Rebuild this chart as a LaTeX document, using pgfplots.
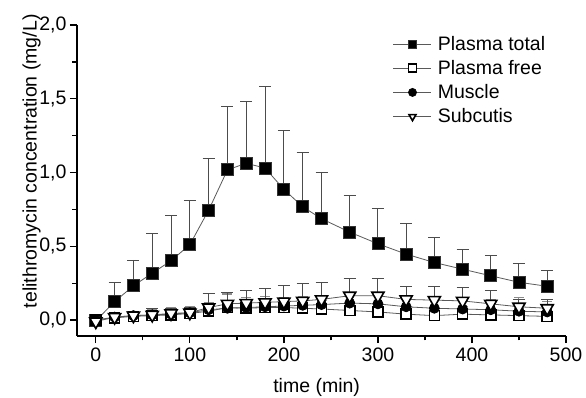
\documentclass[border=0pt]{standalone}
\usepackage{pgfplots}
\usepackage{pgfplotstable}
\pgfplotsset{compat=1.18}
\usepackage{fontspec}
\setmainfont{Liberation Sans}

\pgfplotstableread{
t    tot    totE   free   freeE  mus    musE   sub    subE
0    -0.005 0.000  0.000  0.000  0.000  0.000  -0.010 0.000
20   0.125  0.130  0.015  0.020  0.020  0.020  0.020  0.025
40   0.232  0.170  0.025  0.030  0.030  0.030  0.030  0.030
60   0.318  0.270  0.030  0.040  0.035  0.040  0.035  0.040
80   0.402  0.305  0.035  0.040  0.040  0.045  0.045  0.035
100  0.511  0.300  0.045  0.040  0.050  0.040  0.050  0.035
120  0.745  0.350  0.060  0.060  0.070  0.050  0.085  0.095
140  1.018  0.430  0.085  0.090  0.080  0.100  0.110  0.075
160  1.063  0.420  0.080  0.070  0.085  0.070  0.115  0.085
180  1.030  0.550  0.085  0.060  0.090  0.070  0.120  0.095
200  0.886  0.400  0.085  0.060  0.095  0.060  0.125  0.110
220  0.768  0.370  0.080  0.060  0.100  0.060  0.130  0.120
240  0.687  0.310  0.075  0.060  0.105  0.060  0.140  0.115
270  0.596  0.250  0.065  0.060  0.115  0.060  0.165  0.120
300  0.517  0.236  0.055  0.050  0.110  0.060  0.165  0.115
330  0.447  0.210  0.040  0.050  0.090  0.060  0.140  0.085
360  0.390  0.170  0.030  0.050  0.080  0.060  0.135  0.090
390  0.345  0.135  0.040  0.050  0.075  0.060  0.130  0.090
420  0.300  0.137  0.035  0.040  0.070  0.070  0.110  0.090
450  0.256  0.125  0.030  0.050  0.060  0.090  0.090  0.050
480  0.229  0.110  0.025  0.050  0.055  0.070  0.080  0.060
}\data

\begin{document}
\begin{tikzpicture}
\begin{axis}[
  scale only axis,
  width=489pt, height=311pt,
  xmin=-20, xmax=500, ymin=-0.108, ymax=2.0,
  axis lines*=left,
  axis line style={line width=1.8pt, black},
  xtick={0,100,200,300,400,500},
  minor xtick={50,150,250,350,450},
  ytick={0,0.5,1,1.5,2},
  minor ytick={0.25,0.75,1.25,1.75},
  tick align=outside,
  major tick length=7pt, minor tick length=4.5pt,
  every tick/.style={black, line width=1.3pt},
  /pgf/number format/assume math mode=true,
  ticklabel style={font=\fontsize{19.5}{22}\selectfont},
  xticklabel style={yshift=-1pt},
  yticklabel style={/pgf/number format/.cd, use comma, fixed, fixed zerofill, precision=1},
  xlabel={time (min)},
  ylabel={telithromycin concentration (mg/L)},
  label style={font=\fontsize{19.5}{22}\selectfont},
  xlabel style={at={(axis description cs:0.49,-0.167)}, anchor=center},
  ylabel style={at={(axis description cs:-0.093,0.562)}, anchor=center},
  clip=false,
  legend style={draw=none, fill=none, inner sep=0pt,
    at={(axis description cs:0.646,0.968)}, anchor=north west,
    font=\fontsize{19.5}{22}\selectfont, row sep=6.6pt,
    nodes={inner sep=1pt},
    /tikz/every odd column/.append style={column sep=5pt}},
  legend cell align=left,
  legend image code/.code={%
    \draw[mark repeat=2, mark phase=2, #1, mark size=4pt]
      plot coordinates {(0pt,0pt) (19pt,0pt) (38pt,0pt)};},
  error bars/y dir=plus,
  error bars/y explicit,
  error bars/error bar style={line width=1pt, draw=black!70},
  error bars/error mark options={rotate=90, mark size=6pt, line width=1pt, draw=black!70},
]
\addplot[draw=black!65, line width=0.8pt, mark=square*, mark size=6pt,
  mark options={fill=black, draw=black!80, line width=0.8pt, solid}]
  table[x=t, y=tot, y error=totE] {\data};
\addlegendentry{Plasma total}
\addplot[draw=black!65, line width=0.8pt, mark=square*, mark size=5pt,
  mark options={fill=white, draw=black, line width=1.6pt, solid},
  error bars/error bar style={line width=1pt, draw=black!45},
  error bars/error mark options={rotate=90, mark size=5pt, line width=1pt, draw=black!45}]
  table[x=t, y=free, y error=freeE] {\data};
\addlegendentry{Plasma free}
\addplot[draw=black!65, line width=0.8pt, mark=*, mark size=5pt,
  mark options={fill=black, draw=black, line width=0.8pt, solid},
  error bars/error bar style={line width=1pt, draw=black!45},
  error bars/error mark options={rotate=90, mark size=5pt, line width=1pt, draw=black!45}]
  table[x=t, y=mus, y error=musE] {\data};
\addlegendentry{Muscle}
\addplot[draw=black!65, line width=0.8pt, mark=triangle*, mark size=7pt,
  mark options={fill=white, draw=black, line width=1.6pt, solid, rotate=180}]
  table[x=t, y=sub, y error=subE] {\data};
\addlegendentry{Subcutis}
\end{axis}
\pgfresetboundingbox
\path (-77pt,-62pt) rectangle (509pt,336pt);
\end{tikzpicture}
\end{document}
